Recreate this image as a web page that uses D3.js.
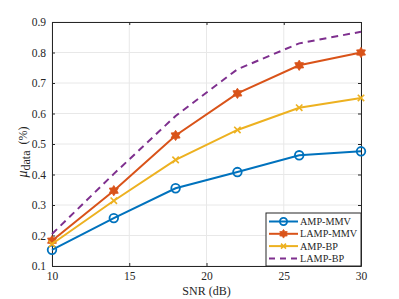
<!DOCTYPE html>
<html>
<head>
<meta charset="utf-8">
<script src="https://cdn.jsdelivr.net/npm/d3@7"></script>
<style>
	body { margin: 0; background: #fff; }
	svg text { font-family: "Liberation Serif", "Times New Roman", "DejaVu Serif", serif; fill: #262626; }
</style>
</head>
<body>
<div id="chart"></div>
<script>
const snr = [10, 14, 18, 22, 26, 30];
const ampMmv = [0.153, 0.257, 0.355, 0.408, 0.463, 0.476];
const lampMmv = [0.183, 0.347, 0.528, 0.666, 0.758, 0.800];
const ampBp = [0.172, 0.314, 0.448, 0.546, 0.619, 0.651];
const lampBp = [0.205, 0.402, 0.592, 0.745, 0.830, 0.868];
const seriesNames = ["AMP-MMV", "LAMP-MMV", "AMP-BP", "LAMP-BP"];
const xTicks = [10, 15, 20, 25, 30];
const yTicks = [0.1, 0.2, 0.3, 0.4, 0.5, 0.6, 0.7, 0.8, 0.9];

const width = 399, height = 299;
const margin = { top: 22, right: 38, bottom: 33, left: 52 };
const serif = "'Liberation Serif', 'Times New Roman', 'DejaVu Serif', serif";

const series = [
	{ name: seriesNames[0], values: ampMmv, color: "#0072BD", marker: "circle", dash: null },
	{ name: seriesNames[1], values: lampMmv, color: "#D95319", marker: "hex", dash: null },
	{ name: seriesNames[2], values: ampBp, color: "#EDB120", marker: "x", dash: null },
	{ name: seriesNames[3], values: lampBp, color: "#7E2F8E", marker: null, dash: "7,5" },
];

const svg = d3
	.select("#chart")
	.append("svg")
	.attr("width", width)
	.attr("height", height)
	.style("font-family", serif);

const x = d3
	.scaleLinear()
	.domain([10, 30])
	.range([margin.left, width - margin.right]);
const y = d3
	.scaleLinear()
	.domain([0.1, 0.9])
	.range([height - margin.bottom, margin.top]);

// grid
svg.append("g")
	.selectAll("line")
	.data(xTicks)
	.enter()
	.append("line")
	.attr("x1", (d) => x(d))
	.attr("x2", (d) => x(d))
	.attr("y1", y(0.1))
	.attr("y2", y(0.9))
	.attr("stroke", "#e8e8e8");
svg.append("g")
	.selectAll("line")
	.data(yTicks)
	.enter()
	.append("line")
	.attr("x1", x(10))
	.attr("x2", x(30))
	.attr("y1", (d) => y(d))
	.attr("y2", (d) => y(d))
	.attr("stroke", "#e8e8e8");

// axes (ticks inside, box)
const styleAxis = (g) => {
	g.attr("font-family", null);
	g.select(".domain").attr("stroke", "#262626");
	g.selectAll(".tick line").attr("stroke", "#262626");
	g.selectAll(".tick text")
		.style("font-family", serif)
		.attr("font-size", "11.5px")
		.attr("fill", "#262626");
};
svg.append("g")
	.attr("transform", `translate(0, ${y(0.1)})`)
	.call(d3.axisBottom(x).tickValues(xTicks).tickSize(-3).tickSizeOuter(0).tickPadding(6))
	.call(styleAxis);
svg.append("g")
	.attr("transform", `translate(${x(10)}, 0)`)
	.call(d3.axisLeft(y).tickValues(yTicks).tickFormat(d3.format(".1f")).tickSize(-3).tickSizeOuter(0).tickPadding(6))
	.call(styleAxis);
svg.append("g")
	.attr("transform", `translate(0, ${y(0.9)})`)
	.call(d3.axisTop(x).tickValues(xTicks).tickFormat("").tickSize(-3).tickSizeOuter(0))
	.call(styleAxis);
svg.append("g")
	.attr("transform", `translate(${x(30)}, 0)`)
	.call(d3.axisRight(y).tickValues(yTicks).tickFormat("").tickSize(-3).tickSizeOuter(0))
	.call(styleAxis);

// markers
const hexStar = (r) => {
	const pts = [];
	for (let i = 0; i < 12; i++) {
		const a = (Math.PI / 6) * i - Math.PI / 2;
		const rr = i % 2 === 0 ? r : r * 0.62;
		pts.push([rr * Math.cos(a), rr * Math.sin(a)]);
	}
	return "M" + pts.map((p) => p.join(",")).join("L") + "Z";
};
function drawMarker(g, type, color, s) {
	if (type === "circle") {
		g.append("circle").attr("r", s).attr("fill", "none").attr("stroke", color).attr("stroke-width", 1.8);
	} else if (type === "hex") {
		g.append("path").attr("d", hexStar(s * 1.2)).attr("fill", color).attr("stroke", color).attr("stroke-width", 0.8);
	} else if (type === "x") {
		g.append("path")
			.attr("d", `M${-s},${-s}L${s},${s}M${-s},${s}L${s},${-s}`)
			.attr("stroke", color)
			.attr("stroke-width", 1.6);
	}
}

const line = d3
	.line()
	.x((d, i) => x(snr[i]))
	.y((d) => y(d));

series.forEach((s) => {
	svg.append("path")
		.datum(s.values)
		.attr("d", line)
		.attr("fill", "none")
		.attr("stroke", s.color)
		.attr("stroke-width", 2)
		.attr("stroke-dasharray", s.dash);
	if (s.marker) {
		s.values.forEach((v, i) => {
			const g = svg.append("g").attr("transform", `translate(${x(snr[i])}, ${y(v)})`);
			drawMarker(g, s.marker, s.color, s.marker === "x" ? 3.2 : 4.3);
		});
	}
});

// legend
const lx = 266, ly = 213, lw = x(30) - lx, lh = y(0.1) - ly;
const legend = svg.append("g");
legend.append("rect")
	.attr("x", lx).attr("y", ly).attr("width", lw).attr("height", lh)
	.attr("fill", "#fff").attr("stroke", "#262626").attr("stroke-width", 1);
series.forEach((s, i) => {
	const cy = ly + 8.5 + i * 12.3;
	legend.append("line")
		.attr("x1", lx + 3).attr("x2", lx + 32).attr("y1", cy).attr("y2", cy)
		.attr("stroke", s.color).attr("stroke-width", 2)
		.attr("stroke-dasharray", s.dash ? "6,5" : null);
	if (s.marker) {
		const g = legend.append("g").attr("transform", `translate(${lx + 17.5}, ${cy})`);
		drawMarker(g, s.marker, s.color, s.marker === "x" ? 2.5 : 3.6);
	}
	legend.append("text")
		.attr("x", lx + 34).attr("y", cy).attr("dy", "0.35em")
		.attr("font-size", "10.2px").text(s.name);
});

// axis labels
svg.append("text")
	.attr("x", (x(10) + x(30)) / 2).attr("y", 295)
	.attr("text-anchor", "middle").attr("font-size", "12px")
	.text("SNR (dB)");
const yl = svg.append("text")
	.attr("transform", `translate(27, 152) rotate(-90)`)
	.attr("text-anchor", "middle").attr("font-size", "14px");
yl.append("tspan").attr("font-style", "italic").text("μ");
yl.append("tspan").attr("font-size", "12px").attr("dy", "3").text("data");
yl.append("tspan").attr("dy", "-3").attr("font-size", "12px").text("\u00a0 (%)");
</script>
</body>
</html>
